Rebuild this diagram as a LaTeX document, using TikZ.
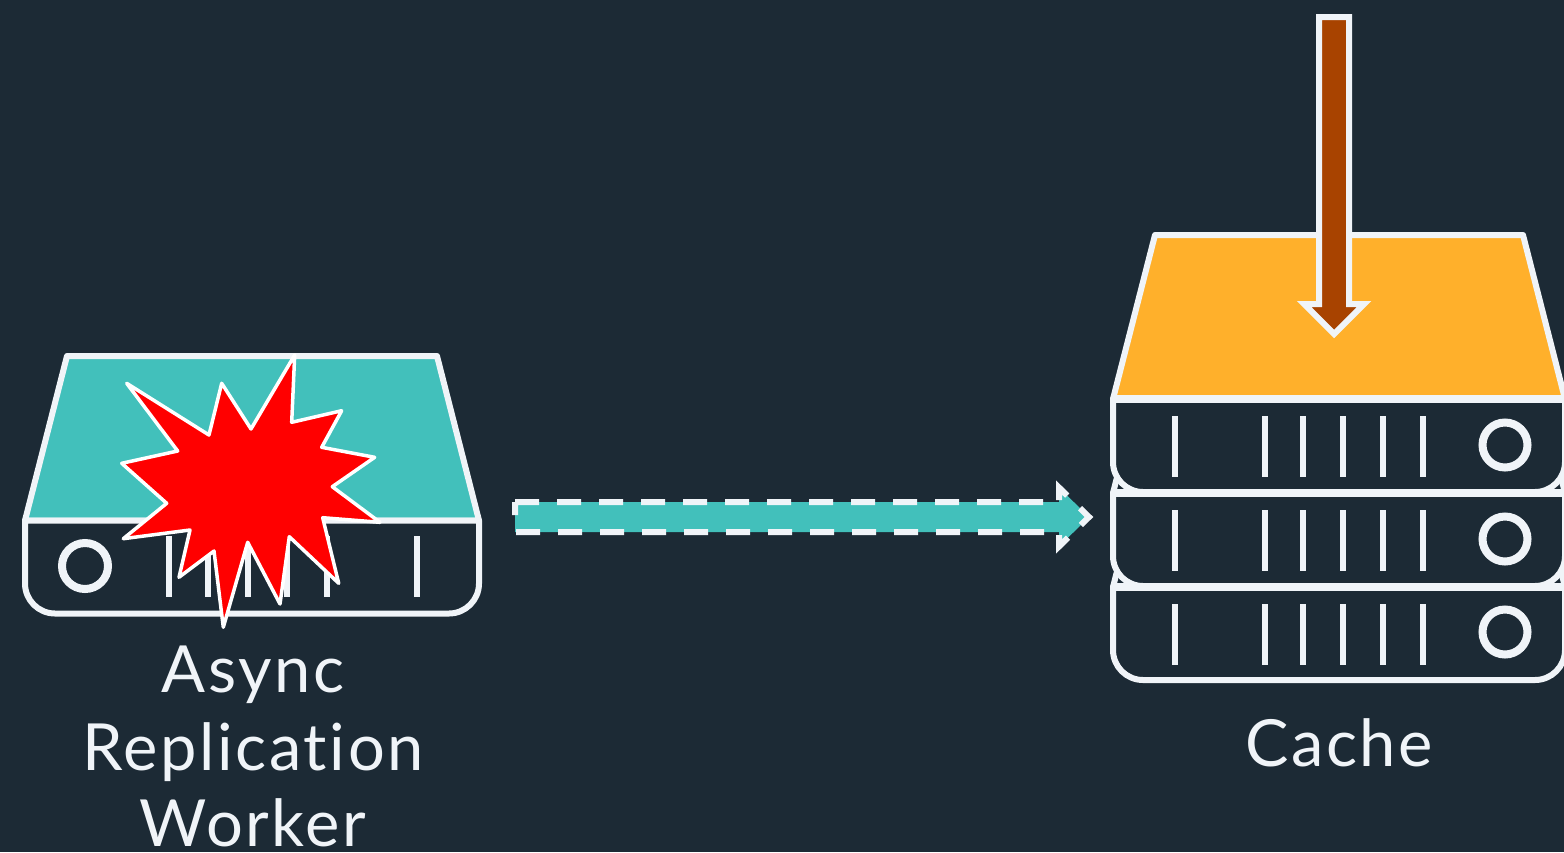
\documentclass[tikz,border=0pt]{standalone}
\usepackage{fontspec}
\setmainfont{Lato}[LetterSpace=4,Ligatures=CommonOff]
\definecolor{bgc}{HTML}{1C2A35}
\definecolor{wht}{HTML}{F0F4F8}
\definecolor{teal1}{HTML}{42C0BB}
\definecolor{orange1}{HTML}{FFB02B}
\definecolor{brown1}{HTML}{A84300}
\tikzset{
 outline/.style={draw=wht,line width=6pt,line join=round},
 panel/.style={outline,fill=bgc},
 barmark/.style={draw=wht,line width=6pt},
 lamp/.style={draw=wht,line width=8pt,fill=none},
 lbl/.style={text=wht,anchor=base,font=\fontsize{65}{65}\selectfont,inner sep=0pt}
}
% #1 x-left, #2 x-right, #3 y-top of body, #4 y-top of the lid, #5 lid colour
\newcommand{\serverunit}[5]{%
  \path[outline,fill=#5] (#1,#3) -- (#1+42,#4) -- (#2-42,#4) -- (#2,#3) -- cycle;
  \path[panel] (#1,#3) -- (#2,#3) [rounded corners=30pt] -- (#2,#3+93) -- (#1,#3+93) [sharp corners] -- cycle;
}
\begin{document}
\begin{tikzpicture}[x=1pt,y=-1pt]
\fill[bgc] (0,0) rectangle (1564,852);
\useasboundingbox (0,0) rectangle (1564,852);
% worker
\serverunit{25}{479}{520.5}{356}{teal1}
\foreach \x in {169,208,248,287,327,417} \draw[barmark] (\x,536) -- (\x,597);
\draw[lamp] (85,566) circle[radius=23];
% explosion
\path[draw=white,line width=3.5pt,line join=round,fill=red]
 (126.7,383.3) -- (209,435) -- (221.7,383.3) -- (251,429) -- (294.7,355) -- (291.7,422.3)
 -- (341.7,410.7) -- (321.7,447.3) -- (374.7,457.3) -- (332.3,486.7) -- (380,522.3)
 -- (322.7,517.7) -- (338.7,583.3) -- (289.3,536.7) -- (280,604) -- (247.7,542.3)
 -- (223.3,627.3) -- (214,551) -- (179,577.3) -- (190,530) -- (123.3,538.7)
 -- (166.7,503.3) -- (121.7,463.3) -- (177.7,451) -- cycle;
% cache
\serverunit{1113}{1565}{587}{423}{bgc}
\serverunit{1113}{1565}{493}{329}{bgc}
\serverunit{1113}{1565}{399}{235}{orange1}
\foreach \y/\c in {399/445,493/539,587/632}{
  \draw[draw=wht,line width=8pt] (1113,\y) -- (1564,\y);
  \foreach \x in {1175,1265,1303,1343,1383,1423} \draw[barmark] (\x,\y+17) -- (\x,\y+78);
  \draw[lamp] (1505,\c) circle[radius=22.5];
}
% replication arrow
\path[draw=wht,line width=6pt,fill=teal1,dash pattern=on 24pt off 18pt,miter limit=10]
 (515,502) -- (1059,502) -- (1059,487.5) -- (1089,517) -- (1059,546.5) -- (1059,532) -- (515,532) -- cycle;
% write arrow
\path[draw=wht,line width=6pt,fill=brown1,miter limit=10]
 (1319,17) -- (1349,17) -- (1349,304) -- (1364,304) -- (1334,334) -- (1304,304) -- (1319,304) -- cycle;
% labels
\node[lbl] (async) at (253,692) {Async};
\node[lbl] (repl) at (253,770) {Replication};
\node[lbl] (work) at (253,846) {Worker};
\node[lbl] (cache) at (1339,766) {Cache};
\end{tikzpicture}
\end{document}
